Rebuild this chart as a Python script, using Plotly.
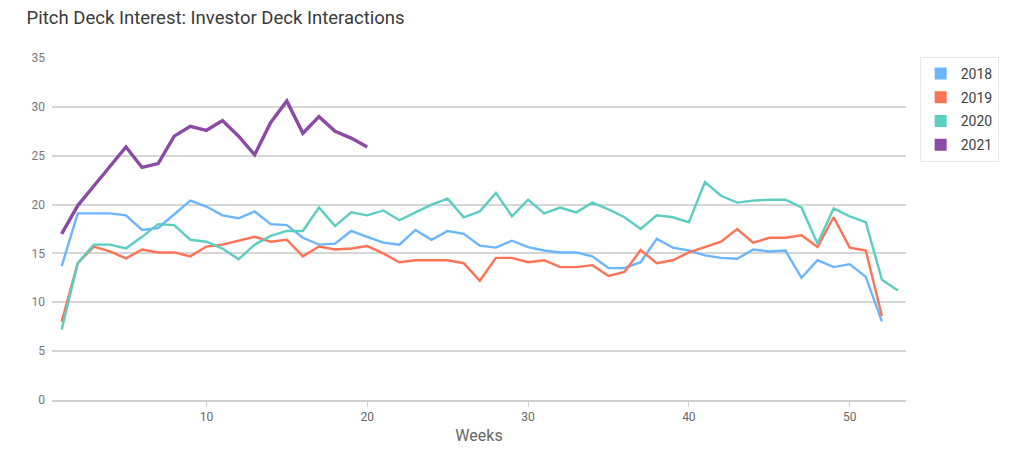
import plotly.graph_objects as go

weeks_2018 = list(range(1, 53))
weeks_2019 = list(range(1, 53))
weeks_2020 = list(range(1, 54))
weeks_2021 = list(range(1, 21))

v2018 = [13.7, 19.1, 19.1, 19.1, 18.9, 17.4, 17.6, 19.0, 20.4, 19.8,
         18.9, 18.6, 19.3, 18.0, 17.9, 16.6, 15.9, 16.0, 17.3, 16.7,
         16.1, 15.9, 17.4, 16.4, 17.3, 17.0, 15.8, 15.6, 16.3, 15.65,
         15.3, 15.1, 15.1, 14.7, 13.5, 13.5, 14.1, 16.5, 15.6, 15.3,
         14.8, 14.55, 14.45, 15.4, 15.2, 15.3, 12.5, 14.3, 13.6, 13.9,
         12.6, 8.05]
v2019 = [8.0, 14.0, 15.7, 15.2, 14.5, 15.4, 15.1, 15.1, 14.7, 15.7,
         15.9, 16.3, 16.7, 16.2, 16.4, 14.7, 15.7, 15.4, 15.5, 15.75,
         15.0, 14.1, 14.3, 14.3, 14.3, 14.0, 12.2, 14.55, 14.55, 14.1,
         14.3, 13.6, 13.6, 13.8, 12.7, 13.1, 15.35, 14.0, 14.3, 15.1,
         15.65, 16.2, 17.5, 16.1, 16.6, 16.6, 16.85, 15.65, 18.7, 15.6,
         15.3, 8.6]
v2020 = [7.2, 14.0, 15.9, 15.9, 15.5, 16.7, 18.0, 17.9, 16.4, 16.2,
         15.5, 14.4, 15.9, 16.8, 17.3, 17.3, 19.7, 17.8, 19.2, 18.9,
         19.4, 18.4, 19.2, 20.0, 20.6, 18.7, 19.3, 21.2, 18.8, 20.5,
         19.1, 19.7, 19.2, 20.2, 19.5, 18.7, 17.5, 18.9, 18.7, 18.2,
         22.3, 20.9, 20.2, 20.4, 20.5, 20.5, 19.7, 16.0, 19.6, 18.8,
         18.2, 12.3, 11.2]
v2021 = [17.0, 19.9, 21.9, 23.9, 25.9, 23.8, 24.2, 27.0, 28.0, 27.6,
         28.6, 27.0, 25.1, 28.4, 30.6, 27.3, 29.0, 27.5, 26.8, 25.9]

series_names = ["2018", "2019", "2020", "2021"]
colors = ["#6bb5fc", "#fd7355", "#5ccdc1", "#8a4aa6"]
widths = [2.4, 2.4, 2.4, 3.4]

y_ticks = [0, 5, 10, 15, 20, 25, 30, 35]
x_ticks = [10, 20, 30, 40, 50]

fig = go.Figure()
all_x = [weeks_2018, weeks_2019, weeks_2020, weeks_2021]
all_y = [v2018, v2019, v2020, v2021]
for name, xs, ys, c, w in zip(series_names, all_x, all_y, colors, widths):
    fig.add_trace(go.Scatter(x=xs, y=ys, mode="lines", name=name,
                             line=dict(color=c, width=w), showlegend=False))
# legend swatches
for name, c in zip(series_names, colors):
    fig.add_trace(go.Scatter(x=[None], y=[None], mode="markers", name=name,
                             legendgroup=name,
                             marker=dict(symbol="square", size=18, color=c),
                             showlegend=True))

fig.update_layout(
    width=1024, height=471,
    margin=dict(l=52, r=118, t=58, b=71),
    paper_bgcolor="white", plot_bgcolor="white",
    font=dict(family="Roboto, sans-serif", color="#666666"),
    title=dict(text="Pitch Deck Interest: Investor Deck Interactions",
               x=0.026, xanchor="left", y=0.963, yanchor="middle",
               font=dict(size=18.5, color="#3a3a3a")),
    legend=dict(x=1.016, xanchor="left", y=1.003, yanchor="top",
                bordercolor="#e8e8e8", borderwidth=1,
                font=dict(size=14, color="#404040"),
                itemsizing="constant", tracegroupgap=2.5),
    showlegend=True,
)
fig.update_xaxes(range=[0.4, 53.5], tickvals=x_ticks, showgrid=False,
                 zeroline=False, showline=True, linecolor="#d0d0d0", linewidth=2,
                 ticks="outside", ticklen=5, tickcolor="#d0d0d0",
                 tickfont=dict(size=12, color="#666666"),
                 title=dict(text="Weeks", font=dict(size=16, color="#666666"),
                            standoff=6))
fig.update_yaxes(range=[0, 35], tickvals=y_ticks, showgrid=True,
                 gridcolor="#d6d6d6", gridwidth=1.6, zeroline=False,
                 tickfont=dict(size=12, color="#777777"), ticklabelstandoff=6)

fig.write_html("out.html", config={"displayModeBar": False},
               post_script="document.body.style.margin='0px';document.body.style.overflow='hidden';")
